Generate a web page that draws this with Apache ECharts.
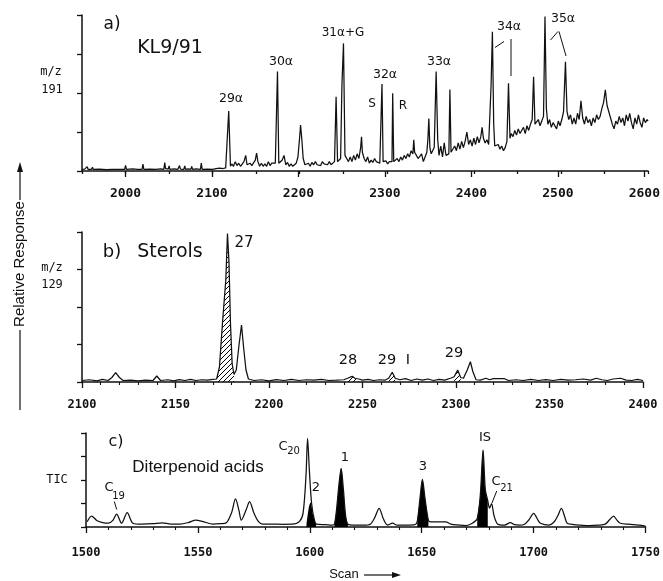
<!DOCTYPE html>
<html>
<head>
<meta charset="utf-8">
<script src="https://cdn.jsdelivr.net/npm/echarts@6/dist/echarts.min.js"></script>
<style>
html, body { margin: 0; padding: 0; background: #fff; }
#chart { width: 663px; height: 581px; }
</style>
</head>
<body>
<div id="chart"></div>
<script>
// a) KL9/91, m/z 191 — [scan, relative response]
const rangeA = [1950, 2600]
const labelTicksA = [2000, 2600]
const traceA = [
  [1950, 1], [1953, 1.2], [1956, 2.8], [1957, 1], [1961, 1.1], [1962, 2.4], [1963, 1], [1970, 1.2],
  [1978, 0.9], [1985, 1.1], [1992, 1], [1999, 1], [2000, 3.6], [2001, 1], [2008, 1.3], [2014, 1],
  [2019, 1], [2020, 4.4], [2021, 1.1], [2028, 1.2], [2035, 1], [2040, 1.4], [2044, 1], [2045, 5.4],
  [2046, 1.5], [2049, 1.2], [2050, 3.2], [2051, 1], [2056, 1.4], [2060, 1], [2062, 3.5], [2063, 1.2],
  [2067, 1], [2068, 3.3], [2069, 1], [2072, 1.4], [2075, 1], [2076, 3], [2077, 1], [2081, 1.3],
  [2086, 1], [2087, 5], [2088, 1], [2094, 1.2], [2100, 1], [2104, 1.5], [2106, 2.6], [2108, 1.8],
  [2110, 2.8], [2112, 1.6], [2115, 2],
  [2116.5, 3], [2118.5, 38.5], [2120.5, 3],
  [2122, 4.5], [2124, 3], [2126, 6], [2128, 3.5], [2130, 5], [2132, 3], [2134, 4], [2136, 6],
  [2138, 10], [2139.5, 4], [2141, 3], [2143, 5], [2145, 3.5], [2147, 4], [2149, 7], [2150.5, 11.5],
  [2152, 6], [2154, 3], [2156, 5], [2158, 3], [2160, 4.5], [2162, 3], [2164, 6], [2166, 3.5],
  [2168, 5], [2170, 4], [2172, 5],
  [2173, 6], [2174.5, 63.7], [2176, 5],
  [2178, 4], [2180, 7], [2182, 10], [2184, 4], [2186, 5.5], [2188, 3], [2190, 4.5], [2192, 3],
  [2194, 4], [2196, 5], [2198, 9], [2200, 22], [2201, 29.5], [2202.5, 20], [2204, 8], [2206, 4],
  [2208, 3.5], [2210, 5], [2212, 3], [2214, 5.5], [2216, 4], [2218, 6], [2220, 4], [2222, 5],
  [2224, 3.5], [2226, 6], [2228, 4.5], [2230, 5], [2232, 4], [2234, 6], [2236, 4], [2238, 5],
  [2240, 6], [2241.8, 47.6], [2243.5, 6], [2245, 5], [2247, 8], [2248.5, 55], [2250.3, 81.8], [2252, 10],
  [2254, 8], [2256, 6], [2258, 9], [2260, 6], [2262, 10], [2264, 7], [2266, 11], [2268, 8],
  [2270, 15], [2271, 22], [2272, 12], [2274, 8], [2276, 6], [2278, 9], [2280, 5], [2282, 7],
  [2284, 5.5], [2286, 8], [2288, 6], [2290, 7], [2292, 5],
  [2293.3, 6], [2294.5, 55.8], [2295.8, 6],
  [2297, 5], [2299, 6.5], [2301, 4.5], [2303, 6], [2305, 5],
  [2306, 6], [2306.8, 49.8], [2308, 6],
  [2310, 6.5], [2312, 8], [2314, 6], [2316, 9], [2318, 7], [2320, 10], [2322, 8], [2324, 11],
  [2326, 9], [2328, 13], [2330, 11], [2331, 20], [2332, 12], [2334, 10], [2336, 8], [2338, 9],
  [2340, 11], [2342, 6], [2344, 9], [2346, 12],
  [2347.2, 20], [2348.3, 33.7], [2349.5, 15], [2351, 11], [2353, 10], [2354.5, 15], [2356.7, 63.7],
  [2358.5, 20], [2360, 10], [2362, 16], [2364, 9], [2366, 18], [2368, 10], [2370, 9],
  [2371.3, 11], [2372.5, 52.3], [2373.8, 12],
  [2376, 13], [2378, 16], [2380, 13], [2382, 18], [2384, 14], [2386, 19], [2388, 15], [2390, 19],
  [2392, 25], [2394, 17], [2396, 20], [2398, 16], [2400, 21], [2402, 17], [2404, 22], [2406, 18],
  [2408, 22], [2409.5, 28], [2411, 21], [2413, 18], [2415, 20], [2417, 17], [2418.5, 18],
  [2419.8, 55], [2421.3, 89.3], [2422.8, 30], [2424, 16],
  [2426, 15], [2428, 17], [2430, 14], [2432, 16], [2434, 13], [2436, 15], [2438, 19], [2439.8, 56.2],
  [2441.5, 21], [2443, 24], [2445, 22], [2447, 26], [2449, 23], [2451, 27], [2453, 24], [2455, 25],
  [2457, 28], [2459, 24], [2461, 29], [2463, 26], [2465, 30], [2467, 33], [2468.6, 60.4], [2470.2, 30],
  [2472, 29], [2474, 33], [2476, 29], [2478, 32], [2480, 35],
  [2481.7, 99], [2483.3, 40], [2485, 30], [2487, 33], [2489, 28], [2491, 31], [2493, 30], [2495, 27],
  [2497, 32], [2499, 29], [2501, 33], [2503, 38], [2505.2, 70], [2507, 38],
  [2509, 33], [2511, 36], [2513, 30], [2515, 34], [2517, 30], [2519, 37], [2521, 33], [2523, 45],
  [2525, 34], [2527, 30], [2529, 35], [2531, 31], [2533, 33], [2535, 29], [2537, 34], [2539, 31],
  [2541, 36], [2543, 33], [2545, 35], [2547, 40], [2549, 44], [2551, 52], [2553, 42], [2555, 38],
  [2557, 34], [2559, 30], [2561, 27], [2563, 32], [2565, 30], [2567, 35], [2569, 31], [2571, 34],
  [2573, 29], [2575, 36], [2577, 32], [2579, 37], [2581, 31], [2583, 27], [2585, 34], [2587, 30],
  [2589, 36], [2591, 31], [2593, 28], [2595, 34], [2597, 31], [2599, 33], [2600, 32]
]

// b) Sterols, m/z 129
const rangeB = [2100, 2400]
const traceB = [
  [2100, 1], [2104, 1.5], [2108, 0.8], [2111, 1.8], [2114, 1], [2116, 3], [2118, 6.2], [2120, 3],
  [2122, 1], [2126, 1.2], [2130, 0.8], [2134, 1.3], [2138, 1], [2140, 4], [2142, 1], [2146, 1.5],
  [2149, 0.8], [2152, 1.6], [2155, 1], [2158, 1.8], [2161, 1], [2164, 1.5], [2167, 1.2], [2169, 1.6],
  [2172, 2], [2173.5, 10], [2175.1, 39], [2176.9, 68], [2177.8, 99], [2178.6, 80], [2179.4, 39],
  [2180.3, 12], [2181.3, 5], [2182.5, 8], [2184, 25], [2185.3, 38], [2186.5, 22], [2187.7, 8], [2189, 2],
  [2192, 1], [2196, 1.5], [2200, 0.8], [2204, 1.6], [2208, 1], [2212, 1.8], [2216, 1], [2220, 1.5],
  [2224, 1.2], [2228, 1.8], [2232, 1], [2236, 1.2], [2240, 1.5], [2242, 2.5], [2244.5, 3.8],
  [2246, 2.5], [2248, 2], [2250, 1.2], [2253, 1.8], [2256, 1], [2259, 1.5], [2262, 1.2], [2264, 2.5],
  [2265.9, 6.5], [2267.5, 2.5], [2270, 1.5], [2273, 2.2], [2276, 1], [2279, 2], [2282, 1.2], [2285, 2],
  [2288, 1], [2291, 1.8], [2294, 1.2], [2297, 2.5], [2299, 3.5], [2300.9, 8], [2302.5, 3], [2304, 2.5],
  [2306, 8], [2307.7, 13.5], [2309, 7], [2310.7, 1.5], [2313, 1.2], [2316, 2.5], [2318, 1.5],
  [2320, 2.2], [2326, 2.2], [2328, 1], [2332, 1.5], [2336, 1], [2340, 1.8], [2344, 1], [2348, 1.6],
  [2352, 1], [2356, 1.8], [2360, 1.2], [2364, 1.5], [2368, 2], [2372, 1.2], [2375, 2.5], [2378, 1.5],
  [2381, 1], [2384, 2], [2388, 2.5], [2391, 1.2], [2394, 1], [2397, 1.8], [2400, 1]
]
const hatchedB = [[2172, 2181.3], [2242, 2248], [2264, 2267.5], [2299, 2302.5]]

// c) Diterpenoid acids, TIC
const rangeC = [1500, 1750]
const traceC = [
  [1500.5, 5.6], [1502.5, 11.7], [1504.8, 7], [1507, 5], [1510, 4], [1512, 7], [1513.7, 13.8],
  [1515.9, 4], [1518.4, 15.2], [1521, 4], [1525, 3], [1530, 3.5], [1534, 4.5], [1538, 3], [1542, 3],
  [1546, 5], [1549, 7.4], [1552, 6], [1556.7, 3], [1560, 3.5], [1562.7, 4.5], [1565, 15], [1566.8, 29.8],
  [1568.3, 18], [1569.4, 7.4], [1571.5, 18], [1573.1, 27], [1575, 15], [1577, 6], [1579, 3], [1583, 3],
  [1588, 2.9], [1592, 3], [1595.4, 6], [1597, 15], [1598.3, 55], [1599, 94.3], [1599.8, 60],
  [1600.8, 25], [1602, 8], [1603, 3], [1607, 2.5], [1610, 2], [1611, 3],
  [1612, 20], [1613, 45], [1614, 62.4], [1615, 40], [1616, 12], [1617, 3],
  [1620, 2], [1624, 2], [1627, 3], [1629, 10], [1631, 19.9], [1632.8, 9], [1634.7, 2], [1637, 4],
  [1639, 2], [1643, 2], [1647, 2.5],
  [1648, 6], [1649.2, 30], [1650.3, 50.7], [1651.5, 30], [1653, 7],
  [1654, 5.5], [1657, 5.5], [1660.7, 5.5], [1663, 3], [1666.7, 2], [1669.7, 1.5], [1672.6, 4],
  [1674.8, 9], [1676.2, 35], [1677.4, 81.9], [1678.4, 40], [1679.5, 28], [1680.3, 20], [1681.2, 25],
  [1682.3, 12], [1684, 3], [1687, 2], [1689.6, 4.6], [1691.5, 2.5], [1693.4, 2], [1696, 3], [1698, 8],
  [1700, 14.5], [1702, 7], [1703, 4], [1706.8, 2], [1709, 5], [1710.8, 12], [1712.4, 19.9], [1714, 10],
  [1715, 4], [1718, 2.5], [1721, 2], [1725, 1.5], [1729, 2], [1732, 3], [1734, 8], [1735.7, 11.7],
  [1737.3, 7], [1738.7, 4], [1742.4, 3], [1746.9, 2], [1750, 1]
]
const blackC = [[1611, 1617], [1648, 1653], [1674.8, 1679.5]]
const peak2C = [[1598.5, 3], [1599.5, 20], [1600.3, 26], [1601.5, 12], [1602.8, 3]]

const INK = '#111'
const chart = echarts.init(document.getElementById('chart'))

const inRange = (tr, r) => tr.filter(p => p[0] >= r[0] && p[0] <= r[1])

// hatch pattern for the sterol peaks
const hatch = document.createElement('canvas')
hatch.width = 5
hatch.height = 5
const hctx = hatch.getContext('2d')
hctx.strokeStyle = '#000'
hctx.lineWidth = 1
hctx.beginPath()
hctx.moveTo(0, 5); hctx.lineTo(5, 0)
hctx.moveTo(-1, 1); hctx.lineTo(1, -1)
hctx.moveTo(4, 6); hctx.lineTo(6, 4)
hctx.stroke()

const grids = [
  { left: 82, right: 15, top: 15, height: 156 },
  { left: 82, right: 20, top: 232, height: 150 },
  { left: 86, right: 16, top: 433, height: 94 },
  // overlay for the long labelled ticks of panel a
  { left: 82 + (labelTicksA[0] - rangeA[0]) / (rangeA[1] - rangeA[0]) * 566, right: 15, top: 15, height: 156 }
]

function xAxis(gridIndex, range, interval, o) {
  return {
    type: 'value', gridIndex, min: range[0], max: range[1], interval,
    axisLine: { show: o.line !== false, lineStyle: { color: INK, width: 1.5 } },
    axisTick: { show: true, length: o.tick, lineStyle: { color: INK, width: 1.3 } },
    minorTick: { show: !!o.minor, splitNumber: o.minor || 5, length: 3, lineStyle: { color: INK, width: 1.1 } },
    axisLabel: {
      show: o.labels !== false, margin: o.margin, fontFamily: 'DejaVu Sans Mono', fontWeight: 'bold',
      fontSize: o.size, color: INK, formatter: v => String(v)
    },
    splitLine: { show: false }
  }
}

function yAxis(gridIndex, show) {
  return {
    type: 'value', gridIndex, min: 0, max: 100, interval: 25, show,
    axisLine: { show: true, lineStyle: { color: INK, width: 1.5 } },
    axisTick: { show: true, length: 5, lineStyle: { color: INK, width: 1.3 } },
    axisLabel: { show: false },
    splitLine: { show: false }
  }
}

function trace(i, data, smooth) {
  return {
    type: 'line', xAxisIndex: i, yAxisIndex: i, data, symbol: 'none', smooth,
    lineStyle: { color: INK, width: 1.25 }, z: 3, silent: true, animation: false
  }
}

function filled(i, data, color, smooth) {
  return {
    type: 'line', xAxisIndex: i, yAxisIndex: i, data, symbol: 'none', smooth,
    lineStyle: { width: 0 }, areaStyle: { color, opacity: 1 }, z: 2, silent: true, animation: false
  }
}

const series = [
  trace(0, traceA, false),
  trace(1, traceB, false),
  trace(2, traceC, 0.3),
  filled(2, peak2C, '#000', 0.3)
]
hatchedB.forEach(r => series.push(filled(1, inRange(traceB, r), { image: hatch, repeat: 'repeat' }, false)))
blackC.forEach(r => series.push(filled(2, inRange(traceC, r), '#000', 0.3)))

function txt(x, y, text, size, family, extra) {
  return Object.assign({
    type: 'text', x, y, silent: true,
    style: {
      text, fill: INK, align: 'center', verticalAlign: 'middle',
      font: size + 'px "' + (family || 'DejaVu Sans') + '"'
    }
  }, extra || {})
}
function seg(x1, y1, x2, y2, w) {
  return { type: 'line', silent: true, shape: { x1, y1, x2, y2 }, style: { stroke: INK, lineWidth: w || 1 } }
}

const graphic = [
  // panel a
  txt(112, 25, 'a)', 17),
  txt(170, 48, 'KL9/91', 19),
  txt(231, 99, '29α', 12.5),
  txt(281, 62, '30α', 12.5),
  txt(343, 33, '31α+G', 12),
  txt(385, 75, '32α', 12.5),
  txt(372, 104, 'S', 12),
  txt(403, 106, 'R', 12),
  txt(439, 62, '33α', 12.5),
  txt(509, 27, '34α', 12.5),
  txt(563, 19, '35α', 12.5),
  seg(504, 41.5, 495, 47.5),
  seg(511, 39, 511, 76),
  seg(558, 31.5, 550.5, 40),
  seg(559, 31.5, 566, 56),
  txt(51, 72, 'm/z', 12, 'DejaVu Sans Mono'),
  txt(52, 90, '191', 12, 'DejaVu Sans Mono'),
  // panel b
  txt(112, 252, 'b)', 18),
  txt(170, 252, 'Sterols', 19),
  txt(244, 243, '27', 15),
  txt(348, 360, '28', 14.5),
  txt(387, 360, '29', 14.5),
  txt(408, 360, 'I', 14.5),
  txt(454, 353, '29', 14.5),
  txt(52, 268, 'm/z', 12, 'DejaVu Sans Mono'),
  txt(52, 285, '129', 12, 'DejaVu Sans Mono'),
  // panel c
  txt(116, 442, 'c)', 16),
  txt(198, 467, 'Diterpenoid acids', 17, 'Liberation Sans'),
  txt(109, 488, 'C', 13),
  txt(118.5, 496, '19', 10),
  seg(114.3, 501.5, 116.7, 509.5),
  txt(283, 447, 'C', 13),
  txt(293.5, 451, '20', 10),
  txt(316, 488, '2', 13),
  txt(345, 458, '1', 13),
  txt(423, 467, '3', 13),
  txt(485, 438, 'IS', 13),
  txt(496, 482, 'C', 13),
  txt(506.5, 488, '21', 10),
  seg(496.7, 491, 492, 503),
  txt(57, 480, 'TIC', 12, 'DejaVu Sans Mono'),
  // side and bottom captions
  txt(20, 264, 'Relative Response', 15, 'Liberation Sans', { rotation: Math.PI / 2 }),
  seg(20, 200, 20, 170, 1.2),
  { type: 'polygon', silent: true, shape: { points: [[20, 162], [17, 172], [23, 172]] }, style: { fill: INK } },
  seg(20, 330, 20, 410, 1.2),
  txt(344, 574, 'Scan', 13, 'Liberation Sans'),
  seg(364, 575, 394, 575, 1.2),
  { type: 'polygon', silent: true, shape: { points: [[401, 575], [392, 572], [392, 578]] }, style: { fill: INK } }
]

chart.setOption({
  backgroundColor: '#fff',
  animation: false,
  grid: grids,
  xAxis: [
    xAxis(0, rangeA, 50, { tick: 3, labels: false }),
    xAxis(1, rangeB, 50, { tick: 6, minor: 5, margin: 17, size: 12 }),
    xAxis(2, rangeC, 50, { tick: 6, minor: 5, margin: 20, size: 12 }),
    xAxis(3, labelTicksA, 100, { tick: 6, line: false, margin: 16, size: 13 })
  ],
  yAxis: [yAxis(0, true), yAxis(1, true), yAxis(2, true), yAxis(3, false)],
  series,
  graphic
})
</script>
</body>
</html>
